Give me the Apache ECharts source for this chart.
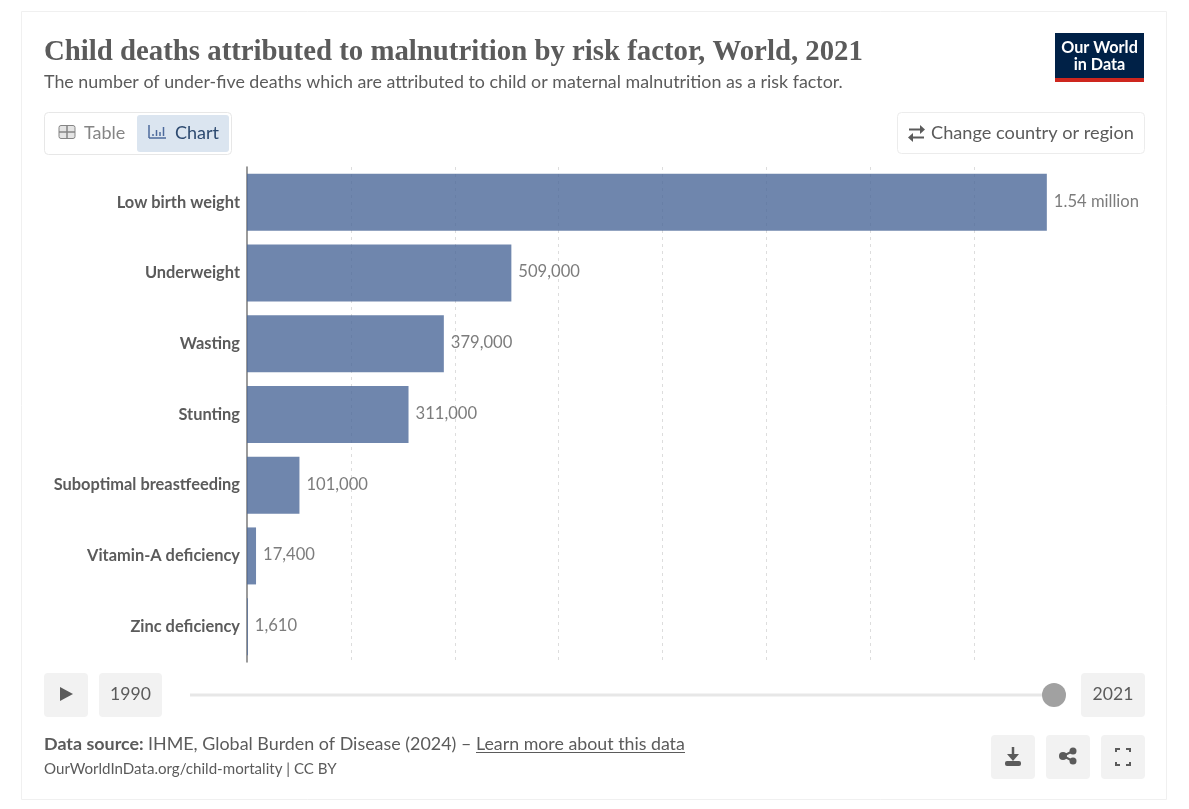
<!DOCTYPE html>
<html>
<head>
<meta charset="utf-8">
<title>Child deaths attributed to malnutrition</title>
<script src="https://cdn.jsdelivr.net/npm/echarts@6/dist/echarts.min.js"></script>
<style>
html, body { margin: 0; padding: 0; background: #fff; }
#chart { width: 1189px; height: 809px; }
</style>
</head>
<body>
<div id="chart"></div>
<script>
var riskFactors = ['Low birth weight', 'Underweight', 'Wasting', 'Stunting', 'Suboptimal breastfeeding', 'Vitamin-A deficiency', 'Zinc deficiency'];
var deaths = [1540000, 509000, 379000, 311000, 101000, 17400, 1610];

var textColor = '#5b5b5b';
var btnColor = '#f2f2f2';
var font = 'Lato';

function txt(x, y, str, size, opts) {
    opts = opts || {};
    return {
        type: 'text', x: x, y: y, silent: true,
        style: {
            text: str,
            font: (opts.weight || 'normal') + ' ' + size + 'px ' + (opts.family || font),
            fill: opts.color || textColor,
            textAlign: opts.align || 'left',
            textVerticalAlign: 'middle'
        }
    };
}

function box(x, y, w, h, fill, stroke, r) {
    return {
        type: 'rect', silent: true,
        shape: {x: x, y: y, width: w, height: h, r: r === undefined ? 4 : r},
        style: {fill: fill || 'transparent', stroke: stroke || null, lineWidth: 1}
    };
}

function seg(x1, y1, x2, y2, color, width) {
    return {
        type: 'line', silent: true,
        shape: {x1: x1, y1: y1, x2: x2, y2: y2},
        style: {stroke: color || textColor, lineWidth: width || 2}
    };
}

function poly(points, color) {
    return {type: 'polygon', silent: true, shape: {points: points}, style: {fill: color || textColor}};
}

function dot(x, y, r, color) {
    return {type: 'circle', silent: true, shape: {cx: x, cy: y, r: r}, style: {fill: color || textColor}};
}

var chrome = [
    // card
    box(21.5, 11.5, 1145, 788, '#fff', '#f0f0f0', 0),
    // header
    txt(44, 53, 'Child deaths attributed to malnutrition by risk factor, World, 2021', 28.8, {weight: 'bold', family: '"Liberation Serif"'}),
    txt(44, 82, 'The number of under-five deaths which are attributed to child or maternal malnutrition as a risk factor.', 17.85),
    // logo
    box(1055, 33, 89, 49, '#002147', null, 0),
    box(1055, 78, 89, 4, '#ce261e', null, 0),
    txt(1099.5, 47.5, 'Our World', 16.2, {weight: 'bold', color: '#fff', align: 'center'}),
    txt(1099.5, 64.5, 'in Data', 16.2, {weight: 'bold', color: '#fff', align: 'center'}),
    // table / chart switch
    box(44.5, 112.5, 187, 42, '#fff', '#e7e7e7'),
    box(137, 115, 92, 37, '#dbe5f0', null, 3),
    box(59, 125.5, 16, 13, '#e4e4e4', '#858585', 2),
    seg(59, 132, 75, 132, '#858585', 1.5),
    seg(67, 126, 67, 138, '#858585', 1.5),
    txt(84, 133, 'Table', 18, {color: '#858585'}),
    seg(149, 125, 149, 138, '#4c6a9c', 1.5),
    seg(149, 138, 166, 138, '#4c6a9c', 1.5),
    seg(153, 134, 153, 136, '#4c6a9c', 1.5),
    seg(156.5, 130, 156.5, 136, '#4c6a9c', 1.5),
    seg(160, 132, 160, 136, '#4c6a9c', 1.5),
    seg(163.5, 127, 163.5, 136, '#4c6a9c', 1.5),
    txt(175, 133, 'Chart', 18, {color: '#2d4a70'}),
    // change country
    box(897.5, 112.5, 247, 41, '#fff', '#ececec'),
    seg(909, 129.5, 921, 129.5, textColor, 2),
    poly([[920, 125], [925, 129.5], [920, 134]]),
    seg(912, 137.5, 924, 137.5, textColor, 2),
    poly([[913, 133], [908, 137.5], [913, 142]]),
    txt(931, 133, 'Change country or region', 18.2),
    // timeline
    box(44, 673, 44, 44, btnColor),
    poly([[60, 687], [73, 694], [60, 701]]),
    box(99, 673, 63, 44, btnColor),
    txt(130.5, 694, '1990', 17.6, {align: 'center'}),
    seg(190, 695, 1054, 695, '#e7e7e7', 3),
    dot(1054, 695, 12, '#a1a1a1'),
    box(1081, 673, 64, 44, btnColor),
    txt(1113, 694, '2021', 17.6, {align: 'center'}),
    // footer
    txt(44, 744, 'Data source:', 17.9, {weight: 'bold'}),
    txt(148, 744, 'IHME, Global Burden of Disease (2024) \u2013', 17.9),
    txt(476, 744, 'Learn more about this data', 17.8),
    seg(476, 752.5, 685, 752.5, textColor, 1),
    txt(44, 769, 'OurWorldInData.org/child-mortality | CC BY', 15.1),
    // download / share / fullscreen buttons
    box(991, 735, 44, 44, btnColor),
    seg(1013, 747, 1013, 758, textColor, 2.5),
    poly([[1007, 754], [1019, 754], [1013, 761]]),
    box(1005, 761, 16, 5, textColor, null, 2),
    box(1046, 735, 44, 44, btnColor),
    seg(1063, 756, 1073, 751, textColor, 2),
    seg(1063, 756, 1073, 761, textColor, 2),
    dot(1063, 756, 4),
    dot(1073, 751, 3.5),
    dot(1073, 761, 3.5),
    box(1101, 735, 44, 44, btnColor),
    seg(1116, 752, 1116, 748.5, textColor, 2),
    seg(1115, 749, 1120, 749, textColor, 2),
    seg(1130, 752, 1130, 748.5, textColor, 2),
    seg(1131, 749, 1126, 749, textColor, 2),
    seg(1116, 762, 1116, 765.5, textColor, 2),
    seg(1115, 765, 1120, 765, textColor, 2),
    seg(1130, 762, 1130, 765.5, textColor, 2),
    seg(1131, 765, 1126, 765, textColor, 2)
];

var myChart = echarts.init(document.getElementById('chart'));
myChart.setOption({
    animation: false,
    backgroundColor: '#fff',
    graphic: {elements: chrome},
    grid: {left: 247, top: 167, width: 831, height: 495, containLabel: false},
    xAxis: {
        type: 'value',
        min: 0,
        max: 1600000,
        interval: 200000,
        axisLine: {show: false},
        axisTick: {show: false},
        axisLabel: {show: false},
        splitLine: {
            show: true,
            showMinLine: false,
            showMaxLine: false, // the reference stops at the last line before the long bar's label
            lineStyle: {color: '#dddddd', type: [3, 4], width: 1}
        }
    },
    yAxis: {
        type: 'category',
        inverse: true,
        data: riskFactors,
        axisLine: {show: true, lineStyle: {color: '#7a7a7a', width: 1.5}},
        axisTick: {show: false},
        axisLabel: {
            color: textColor,
            fontFamily: font,
            fontWeight: 'bold',
            fontSize: 16.4,
            margin: 7
        }
    },
    series: [{
        type: 'bar',
        data: deaths,
        barWidth: 57,
        z: 3,
        itemStyle: {color: '#4b6899', opacity: 0.8},
        label: {
            show: true,
            position: 'right',
            distance: 7,
            offset: [0, -1],
            color: textColor,
            fontFamily: font,
            fontSize: 16.6,
            formatter: function (p) {
                if (p.value >= 1000000) {
                    return (p.value / 1000000).toFixed(2) + ' million';
                }
                return p.value.toLocaleString('en-US');
            }
        }
    }]
});
</script>
</body>
</html>
